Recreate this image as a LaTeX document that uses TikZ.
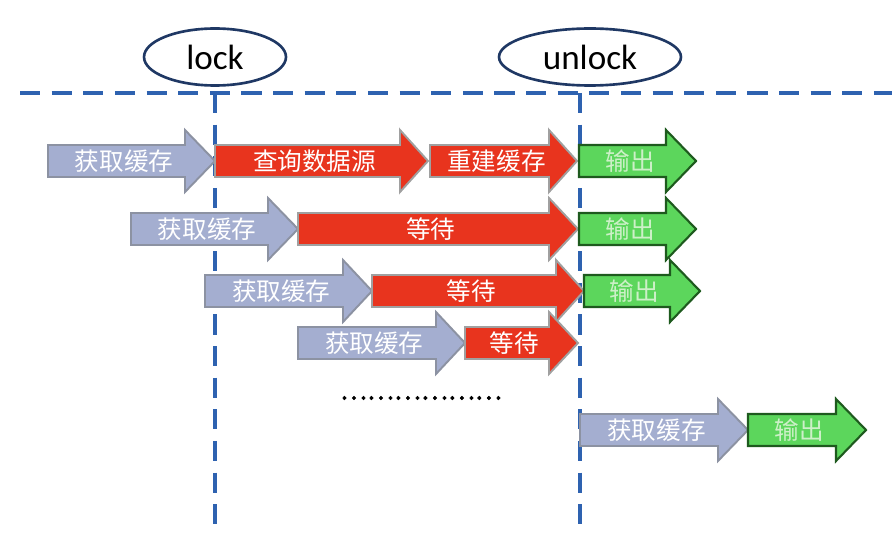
\documentclass[tikz,border=0pt]{standalone}
\usepackage{fontspec}
\setmainfont{Carlito}
\newfontfamily\cjk{Noto Sans CJK SC}
\newfontfamily\cjkdots[FakeBold=2.5]{Noto Sans CJK SC}
\usetikzlibrary{shapes.geometric}

\definecolor{lineblue}{RGB}{46,98,176}
\definecolor{ovalblue}{RGB}{31,56,100}
\definecolor{getfill}{RGB}{164,174,208}
\definecolor{getdraw}{RGB}{140,146,162}
\definecolor{waitfill}{RGB}{232,52,30}
\definecolor{waitdraw}{RGB}{160,160,160}
\definecolor{outfill}{RGB}{92,214,92}
\definecolor{outdraw}{RGB}{30,90,30}
\definecolor{outtext}{RGB}{205,240,200}

\tikzset{
  x=0.02cm, y=-0.02cm,
  dashline/.style={lineblue, line width=2.3pt, dash pattern=on 11.5pt off 6.5pt},
  oval/.style={ellipse, draw=ovalblue, line width=1.5pt, fill=white, inner sep=0pt,
               minimum height=1.14cm, font=\fontsize{20}{24}\selectfont},
  getarrow/.style={fill=getfill, draw=getdraw, line width=1.1pt},
  waitarrow/.style={fill=waitfill, draw=waitdraw, line width=1.1pt},
  outarrow/.style={fill=outfill, draw=outdraw, line width=1.2pt},
  arrowtext/.style={inner sep=0pt, text=white, font=\cjk\fontsize{14}{16}\selectfont},
}

% style, name, start, head base, tip, y, text
\newcommand{\blockarrow}[7]{%
  \draw[#1] (#3,#6-16) -- (#4,#6-16) -- (#4,#6-31) -- (#5,#6)
    -- (#4,#6+31) -- (#4,#6+16) -- (#3,#6+16) -- cycle;
  \node[arrowtext] (#2) at ({(#3+#4)/2+(#5-#4)/4},#6) {#7};
}

\begin{document}
\begin{tikzpicture}
  \useasboundingbox (0,0) rectangle (892,544);

  \coordinate (hleft) at (20,93);
  \coordinate (hright) at (892,93);
  \coordinate (locktop) at (215,93);
  \coordinate (lockbot) at (215,530);
  \coordinate (unlocktop) at (580,93);
  \coordinate (unlockbot) at (580,530);
  \draw[dashline] (hleft) -- (hright);
  \draw[dashline] (locktop) -- (lockbot);
  \draw[dashline] (unlocktop) -- (unlockbot);

  \node[oval, minimum width=2.84cm] (lock) at (215,57) {lock};
  \node[oval, minimum width=3.64cm] (unlock) at (590,57) {unlock};

  \blockarrow{getarrow}{get1}{48}{185}{215}{161}{获取缓存}
  \blockarrow{waitarrow}{query1}{215}{400}{428}{161}{查询数据源}
  \blockarrow{waitarrow}{rebuild1}{430}{549}{577}{161}{重建缓存}
  \blockarrow{outarrow}{out1}{579}{666}{696}{161}{\textcolor{outtext}{输出}}

  \blockarrow{getarrow}{get2}{131}{268}{298}{229}{获取缓存}
  \blockarrow{waitarrow}{wait2}{298}{549}{578}{229}{等待}
  \blockarrow{outarrow}{out2}{579}{666}{696}{229}{\textcolor{outtext}{输出}}

  \blockarrow{getarrow}{get3}{205}{343}{372}{291}{获取缓存}
  \blockarrow{waitarrow}{wait3}{372}{556}{584}{291}{等待}
  \blockarrow{outarrow}{out3}{584}{670}{700}{291}{\textcolor{outtext}{输出}}

  \blockarrow{getarrow}{get4}{298}{436}{465}{343}{获取缓存}
  \blockarrow{waitarrow}{wait4}{465}{549}{578}{343}{等待}

  \node[font=\cjkdots\fontsize{14.5}{16}\selectfont, inner sep=0pt] (more) at (421,398) {………………};

  \blockarrow{getarrow}{get5}{580}{718}{748}{430}{获取缓存}
  \blockarrow{outarrow}{out5}{748}{836}{866}{430}{\textcolor{outtext}{输出}}
\end{tikzpicture}
\end{document}
